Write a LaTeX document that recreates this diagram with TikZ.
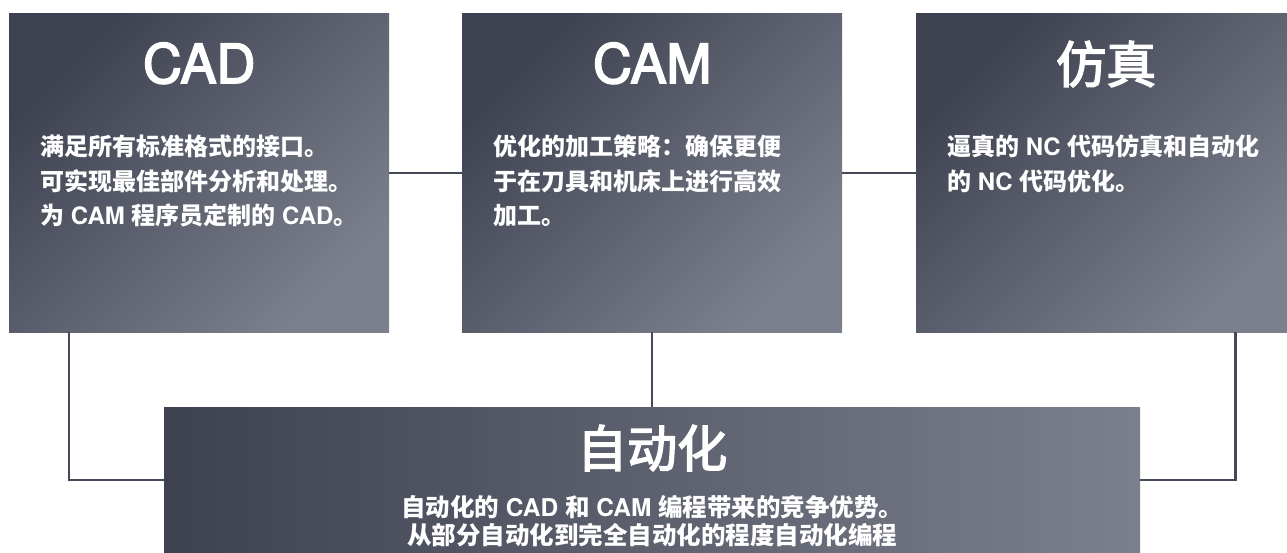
\documentclass[tikz,border=0pt]{standalone}
\usepackage{fontspec}
\setmainfont{Noto Sans CJK SC}
\newfontfamily\heros{TeX Gyre Heros}
\newfontfamily\herosmed{TeX Gyre Heros}[FakeBold=3]
\newfontfamily\cjkmed{Noto Sans CJK SC}[FakeBold=3]
\newcommand{\lat}[1]{{\heros #1}}
\usepackage{xcolor}
\usetikzlibrary{positioning}
\definecolor{slatedark}{HTML}{3E4250}
\definecolor{slatemid}{HTML}{4D5161}
\definecolor{slatelight}{HTML}{7C7F8C}
\definecolor{linkgray}{HTML}{454957}
\tikzset{
  card/.style={rectangle, anchor=north west, inner sep=0pt, minimum width=380pt, minimum height=319pt,
    top color=slatedark, middle color=slatemid, bottom color=slatelight, shading angle=45},
  banner/.style={rectangle, anchor=north west, inner sep=0pt, minimum width=976pt, minimum height=146pt,
    left color=slatedark, right color=slatelight},
  headline/.style={text=white, inner sep=0pt, anchor=base},
  blurb/.style={text=white, inner sep=0pt, anchor=north west, align=left,
    font=\bfseries\fontsize{24}{34.5}\selectfont},
  link/.style={draw=linkgray, line width=2.2pt},
}

\begin{document}
\begin{tikzpicture}[x=1pt,y=-1pt]
	\useasboundingbox (0,0) rectangle (1287,552);
	\node[card] (cad) at (9,13) {};
	\node[card] (cam) at (462,13) {};
	\node[card] (sim) at (916,13) {};
	\node[banner] (auto) at (164,407) {};
	% connectors
	\draw[link] (cad.east) -- (cam.west);
	\draw[link] (cam.east) -- (sim.west);
	\draw[link] (cam.south) -- (auto.north);
	\draw[link] ([xshift=60pt]cad.south west) |- (auto.west);
	\draw[link] ([xshift=-61pt]sim.south east) |- (auto.east);
	% titles
	\node[headline, font=\herosmed\fontsize{54}{60}\selectfont] (cadtitle) at ([yshift=-70pt]cad.north) {CAD};
	\node[headline, font=\herosmed\fontsize{54}{60}\selectfont] (camtitle) at ([yshift=-70pt]cam.north) {CAM};
	\node[headline, font=\cjkmed\fontsize{50}{56}\selectfont] (simtitle) at ([yshift=-70pt]sim.north) {仿真};
	\node[headline, font=\cjkmed\fontsize{50}{56}\selectfont] (autotitle) at ([yshift=-60pt]auto.north) {自动化};
	% texts
	\node[blurb] (cadtext) at ([xshift=31pt,yshift=-122pt]cad.north west)
		{满足所有标准格式的接口。\\可实现最佳部件分析和处理。\\为\lat{ CAM }程序员定制的\lat{ CAD}。};
	\node[blurb] (camtext) at ([xshift=31pt,yshift=-122pt]cam.north west)
		{优化的加工策略：确保更便\\于在刀具和机床上进行高效\\加工。};
	\node[blurb] (simtext) at ([xshift=31pt,yshift=-122pt]sim.north west)
		{逼真的\lat{ NC }代码仿真和自动化\\的\lat{ NC }代码优化。};
	\node[blurb, anchor=north, align=center, font=\bfseries\fontsize{24.5}{28}\selectfont] (autotext) at ([yshift=-88pt]auto.north)
		{自动化的\lat{ CAD }和\lat{ CAM }编程带来的竞争优势。\\ 从部分自动化到完全自动化的程度自动化编程};
\end{tikzpicture}
\end{document}
